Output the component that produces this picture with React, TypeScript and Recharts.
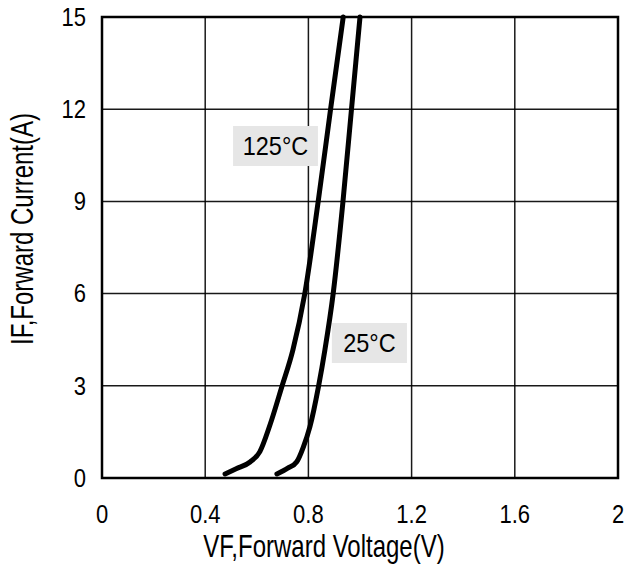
import React from 'react';
import { LineChart, Line, XAxis, YAxis, CartesianGrid, ReferenceArea } from 'recharts';

const xTicks = [0, 0.4, 0.8, 1.2, 1.6, 2];
const yTicks = [0, 3, 6, 9, 12, 15];

const curve125 = [
  { x: 0.477, y: 0.13 },
  { x: 0.52, y: 0.3 },
  { x: 0.574, y: 0.52 },
  { x: 0.612, y: 0.86 },
  { x: 0.65, y: 1.7 },
  { x: 0.697, y: 2.97 },
  { x: 0.74, y: 4.17 },
  { x: 0.786, y: 6 },
  { x: 0.838, y: 9 },
  { x: 0.886, y: 12 },
  { x: 0.935, y: 15 },
];

const curve25 = [
  { x: 0.678, y: 0.13 },
  { x: 0.72, y: 0.32 },
  { x: 0.755, y: 0.53 },
  { x: 0.78, y: 1.0 },
  { x: 0.806, y: 1.67 },
  { x: 0.839, y: 2.97 },
  { x: 0.864, y: 4.17 },
  { x: 0.896, y: 6 },
  { x: 0.934, y: 9 },
  { x: 0.967, y: 12 },
  { x: 1.0, y: 15 },
];

const annotations = [
  { text: '125°C', x1: 0.508, x2: 0.837, y1: 10.15, y2: 11.45 },
  { text: '25°C', x1: 0.891, x2: 1.182, y1: 3.74, y2: 5.04 },
];

const FONT = '"Liberation Sans", Arial, sans-serif';

const XTick = (p: any) => (
  <g transform={`translate(${p.x},${p.y}) scale(1,1.13)`}>
    <text x={0} y={0} dy="0.71em" textAnchor="middle" fontSize={22} fill="#000" fontFamily={FONT}>
      {p.payload.value}
    </text>
  </g>
);

const YTick = (p: any) => (
  <g transform={`translate(${p.x},${p.y}) scale(1,1.13)`}>
    <text x={0} y={0} dy="0.355em" textAnchor="end" fontSize={22} fill="#000" fontFamily={FONT}>
      {p.payload.value}
    </text>
  </g>
);

const AreaLabel = (text: string) => (p: any) => {
  const vb = p.viewBox;
  const cx = vb.x + vb.width / 2;
  const cy = vb.y + vb.height / 2;
  return (
    <g transform={`translate(${cx},${cy}) scale(1,1.12)`}>
      <text x={0} y={0} dy="0.355em" textAnchor="middle" fontSize={23.5} fill="#000" fontFamily={FONT}>
        {text}
      </text>
    </g>
  );
};

export default function App() {
  return (
    <div style={{ position: 'absolute', left: 0, top: 0, width: 627, height: 564, background: '#fff' }}>
      <LineChart
        width={627}
        height={564}
        margin={{ top: 17, right: 9, bottom: 0, left: 0 }}
        style={{ fontFamily: FONT }}
      >
        <CartesianGrid stroke="#000" strokeWidth={1.5} strokeOpacity={0.9} />
        <XAxis
          type="number"
          dataKey="x"
          domain={[0, 2]}
          ticks={xTicks}
          height={86}
          tickSize={0}
          tickMargin={27}
          axisLine={false}
          tickLine={false}
          tick={XTick}
          label={{
            content: (p: any) => {
              const vb = p.viewBox;
              return (
                <g transform={`translate(${vb.x + 222},556.6) scale(1,1.27)`}>
                  <text x={0} y={0} textAnchor="middle" fontSize={24} fill="#000" fontFamily={FONT}>
                    VF,Forward Voltage(V)
                  </text>
                </g>
              );
            },
          }}
        />
        <YAxis
          type="number"
          domain={[0, 15]}
          ticks={yTicks}
          width={102}
          tickSize={0}
          tickMargin={16}
          axisLine={false}
          tickLine={false}
          tick={YTick}
          label={{
            content: () => (
              <g transform="translate(22,229) rotate(-90) scale(1,1.27)">
                <text x={0} y={0} dy="0.36em" textAnchor="middle" fontSize={24} fill="#000" fontFamily={FONT}>
                  IF,Forward Current(A)
                </text>
              </g>
            ),
          }}
        />
        {annotations.map((a) => (
          <ReferenceArea
            key={a.text}
            x1={a.x1}
            x2={a.x2}
            y1={a.y1}
            y2={a.y2}
            fill="#e6e6e6"
            fillOpacity={1}
            stroke="none"
            label={{ content: AreaLabel(a.text) }}
          />
        ))}
        <ReferenceArea x1={0} x2={2} y1={0} y2={15} fill="none" stroke="#000" strokeWidth={2.5} />
        <Line
          data={curve125}
          dataKey="y"
          type="monotone"
          stroke="#000"
          strokeWidth={5}
          strokeLinecap="round"
          dot={false}
          activeDot={false}
          isAnimationActive={false}
        />
        <Line
          data={curve25}
          dataKey="y"
          type="monotone"
          stroke="#000"
          strokeWidth={5}
          strokeLinecap="round"
          dot={false}
          activeDot={false}
          isAnimationActive={false}
        />
      </LineChart>
    </div>
  );
}
